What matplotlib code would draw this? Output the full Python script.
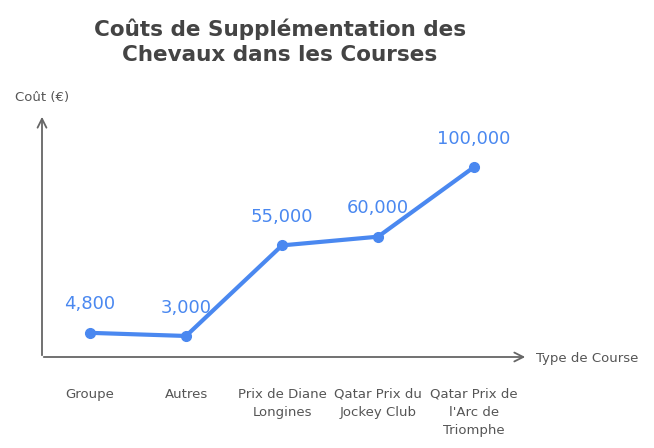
import matplotlib.pyplot as plt

categories = ["Groupe", "Autres", "Prix de Diane\nLongines", "Qatar Prix du\nJockey Club",
              "Qatar Prix de\nl'Arc de\nTriomphe"]
costs = [4800, 3000, 55000, 60000, 100000]
value_labels = ["4,800", "3,000", "55,000", "60,000", "100,000"]

W, H = 654, 448
fig = plt.figure(figsize=(W / 100, H / 100), dpi=100)
# axes box in pixel coords: x 42..525, y 118..357
ax = fig.add_axes([42 / W, 1 - 357 / H, (525 - 42) / W, (357 - 118) / H])
ax.set_xlim(-0.5, 4.53)
ax.set_ylim(-9070, 128130)
ax.axis("off")

blue = "#4a88f0"
gray = "#555555"
ax.plot(range(len(costs)), costs, color=blue, lw=3, marker="o", ms=7, solid_capstyle="round")
for i, (c, lab) in enumerate(zip(costs, value_labels)):
    ax.annotate(lab, (i, c), xytext=(0, 14), textcoords="offset points",
                ha="center", va="bottom", color=blue, fontsize=13)

for i, cat in enumerate(categories):
    ax.annotate(cat, (i, -9070), xytext=(0, -22), textcoords="offset points",
                ha="center", va="top", color=gray, fontsize=9.5, linespacing=1.5)

# axes with open arrows
arrow = dict(arrowstyle="->", color="#666666", lw=1.3, mutation_scale=16)
fig.add_artist(plt.Annotation("", xy=(42 / W, 1 - 114 / H), xytext=(42 / W, 1 - 358 / H),
                              xycoords="figure fraction", arrowprops=arrow))
fig.add_artist(plt.Annotation("", xy=(528 / W, 1 - 357 / H), xytext=(41 / W, 1 - 357 / H),
                              xycoords="figure fraction", arrowprops=arrow))

fig.text(15 / W, 1 - 97 / H, "Coût (€)", color=gray, fontsize=9.5, va="center")
fig.text(536 / W, 1 - 358 / H, "Type de Course", color=gray, fontsize=9.5, va="center")
fig.text(280 / W, 1 - 42 / H, "Coûts de Supplémentation des\nChevaux dans les Courses",
         ha="center", va="center", fontsize=15.5, fontweight="bold", color="#444444",
         linespacing=1.3)

fig.savefig("out.png", dpi=100)
